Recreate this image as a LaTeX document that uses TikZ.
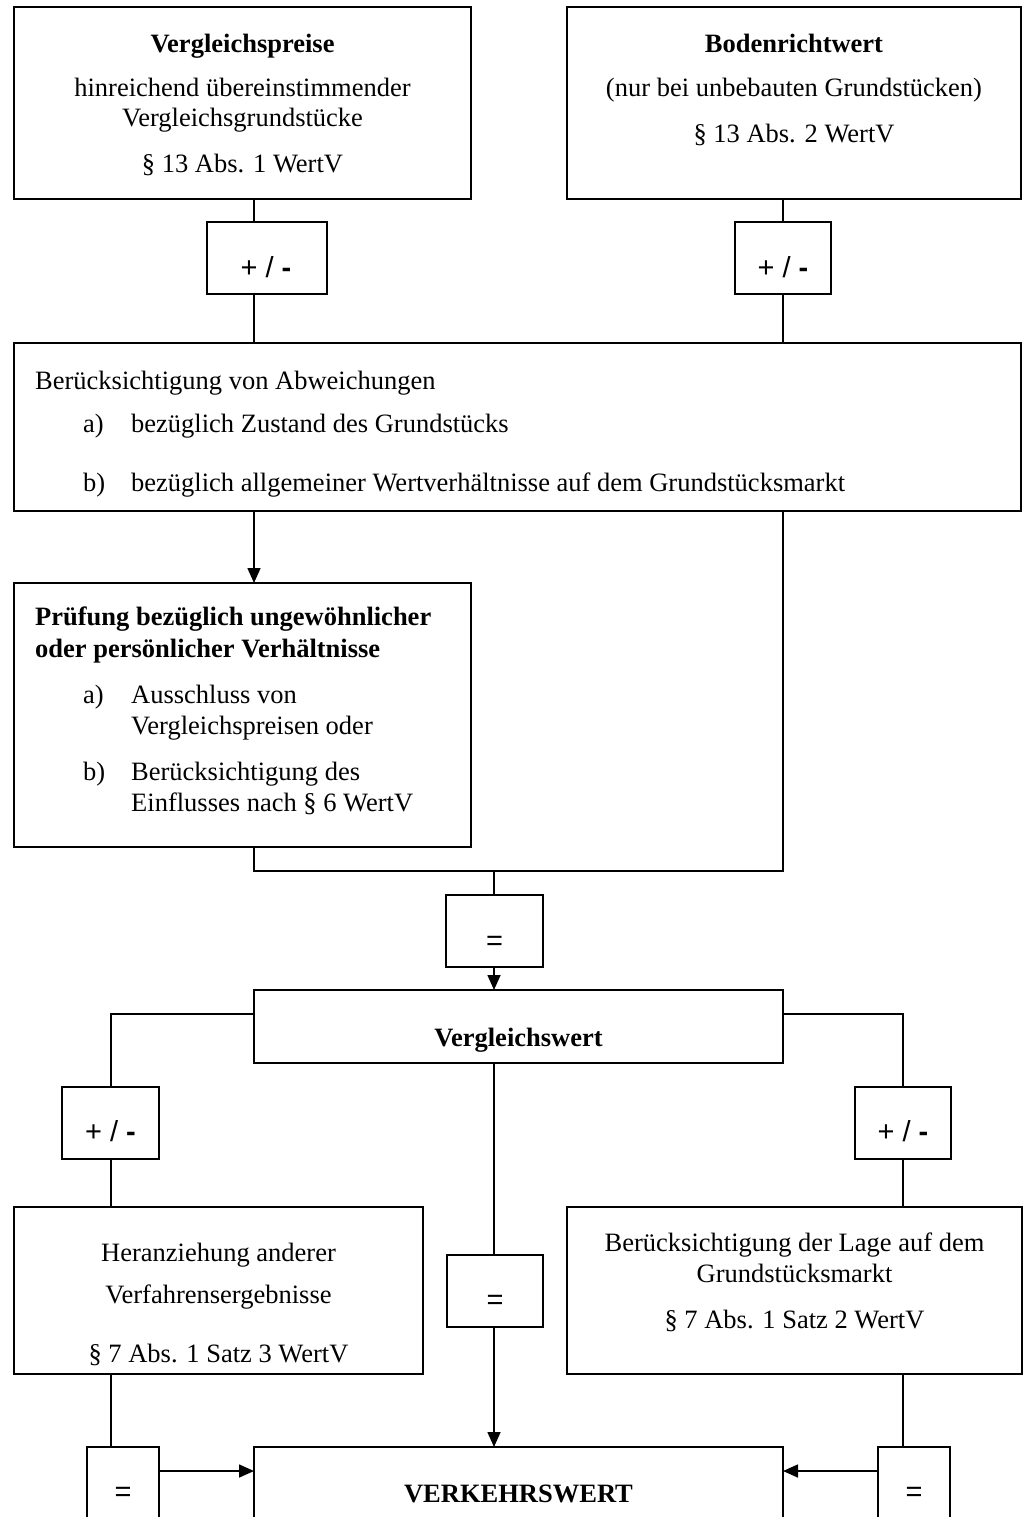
\documentclass[tikz,border=0pt]{standalone}
\usepackage{fontspec}
\setmainfont{Liberation Serif}
\newfontfamily\opfont{Liberation Sans}
\usetikzlibrary{arrows.meta}

\newcommand\dsize{\fontsize{26.5pt}{31pt}\selectfont}
\newcommand\osize{\fontsize{29pt}{34pt}\selectfont}

\begin{document}
\begin{tikzpicture}[x=1pt,y=-1pt,
  box/.style={draw, line width=1.8pt, rectangle, fill=white, inner sep=0pt, outer sep=0pt},
  conn/.style={line width=1.6pt},
  arr/.style={line width=1.6pt, -{Triangle[length=15pt,width=13pt]}},
  lbl/.style={inner sep=0pt, anchor=base, font=\dsize},
  lblw/.style={inner sep=0pt, anchor=base west, font=\dsize},
  op/.style={inner sep=0pt, anchor=base, font=\osize\opfont}]

\useasboundingbox (0,0) rectangle (1028,1517);
\clip (0,0) rectangle (1028,1517);

% column and row guides for the connectors
\coordinate (xL)  at (254,0);
\coordinate (xR)  at (783,0);
\coordinate (xM)  at (494,0);
\coordinate (xLL) at (111,0);
\coordinate (xRR) at (903,0);
\coordinate (yJ)  at (0,871);
\coordinate (yB)  at (0,1014);
\coordinate (yA)  at (0,1471);

% boxes
\node[box, minimum width=457pt, minimum height=192pt] (vp) at (242.5,103) {};
\node[box, minimum width=454pt, minimum height=192pt] (br) at (794,103) {};
\node[box, minimum width=120pt, minimum height=72pt] (pm1) at (267,258) {};
\node[box, minimum width=96pt, minimum height=72pt] (pm2) at (783,258) {};
\node[box, minimum width=1007pt, minimum height=168pt] (ab) at (517.5,427) {};
\node[box, minimum width=457pt, minimum height=264pt] (pr) at (242.5,715) {};
\node[box, minimum width=97pt, minimum height=72pt] (eq1) at (494.5,931) {};
\node[box, minimum width=529pt, minimum height=73pt] (vw) at (518.5,1026.5) {};
\node[box, minimum width=97pt, minimum height=72pt] (pm3) at (110.5,1123) {};
\node[box, minimum width=96pt, minimum height=72pt] (pm4) at (903,1123) {};
\node[box, minimum width=409pt, minimum height=167pt] (he) at (218.5,1290.5) {};
\node[box, minimum width=455pt, minimum height=167pt] (la) at (794.5,1290.5) {};
\node[box, minimum width=96pt, minimum height=72pt] (eq2) at (495,1291) {};
\node[box, minimum width=529pt, minimum height=100pt] (vk) at (518.5,1497) {};
\node[box, minimum width=72pt, minimum height=100pt] (eq3) at (123,1497) {};
\node[box, minimum width=72pt, minimum height=100pt] (eq4) at (914,1497) {};

% texts
\node[lbl] (t1) at (242.5,53) {\bfseries Vergleichspreise};
\node[lbl] (t2) at (242.5,97) {hinreichend übereinstimmender};
\node[lbl] (t3) at (242.5,127) {Vergleichsgrundstücke};
\node[lbl] (t4) at (242.5,173) {§ 13 Abs. 1 WertV};

\node[lbl] (t5) at (794,53) {\bfseries Bodenrichtwert};
\node[lbl] (t6) at (794,97) {(nur bei unbebauten Grundstücken)};
\node[lbl] (t7) at (794,143) {§ 13 Abs. 2 WertV};

\node[op] (o1) at (266,277) {+ / \textbf{-}};
\node[op] (o2) at (783,277) {+ / \textbf{-}};

\node[lblw] (t8) at (35,389) {Berücksichtigung von Abweichungen};
\node[lblw] (t9) at (83,432) {a)};
\node[lblw] (t10) at (131,432) {bezüglich Zustand des Grundstücks};
\node[lblw] (t11) at (83,491) {b)};
\node[lblw] (t12) at (131,491) {bezüglich allgemeiner Wertverhältnisse auf dem Grundstücksmarkt};

\node[lblw] (t13) at (35,625) {\bfseries Prüfung bezüglich ungewöhnlicher};
\node[lblw] (t14) at (35,657) {\bfseries oder persönlicher Verhältnisse};
\node[lblw] (t15) at (83,703) {a)};
\node[lblw] (t16) at (131,703) {Ausschluss von};
\node[lblw] (t17) at (131,734) {Vergleichspreisen oder};
\node[lblw] (t18) at (83,780) {b)};
\node[lblw] (t19) at (131,780) {Berücksichtigung des};
\node[lblw] (t20) at (131,811) {Einflusses nach § 6 WertV};

\node[op] (o3) at (494.5,950) {=};
\node[lbl] (t21) at (518.5,1046) {\bfseries Vergleichswert};
\node[op] (o4) at (110.5,1141) {+ / \textbf{-}};
\node[op] (o5) at (903,1141) {+ / \textbf{-}};

\node[lbl] (t22) at (218.5,1261) {Heranziehung anderer};
\node[lbl] (t23) at (218.5,1303) {Verfahrensergebnisse};
\node[lbl] (t24) at (218.5,1362) {§ 7 Abs. 1 Satz 3 WertV};

\node[lbl] (t25) at (794.5,1251) {Berücksichtigung der Lage auf dem};
\node[lbl] (t26) at (794.5,1282) {Grundstücksmarkt};
\node[lbl] (t27) at (794.5,1328) {§ 7 Abs. 1 Satz 2 WertV};

\node[op] (o6) at (495,1309) {=};
\node[lbl] (t28) at (518.5,1502) {\bfseries VERKEHRSWERT};
\node[op] (o7) at (123,1501) {=};
\node[op] (o8) at (914,1501) {=};

% connectors
\draw[conn] (vp.south -| xL) -- (pm1.north -| xL);
\draw[conn] (pm1.south -| xL) -- (ab.north -| xL);
\draw[conn] (br.south -| xR) -- (pm2.north -| xR);
\draw[conn] (pm2.south -| xR) -- (ab.north -| xR);
\draw[arr] (ab.south -| xL) -- (pr.north -| xL);
\draw[conn] (pr.south -| xL) -- (xL |- yJ) -- (xR |- yJ) -- (ab.south -| xR);
\draw[conn] (xM |- yJ) -- (eq1.north -| xM);
\draw[arr] (eq1.south -| xM) -- (vw.north -| xM);
\draw[conn] (vw.west |- yB) -- (xLL |- yB) -- (pm3.north -| xLL);
\draw[conn] (pm3.south -| xLL) -- (he.north -| xLL);
\draw[conn] (vw.east |- yB) -- (xRR |- yB) -- (pm4.north -| xRR);
\draw[conn] (pm4.south -| xRR) -- (la.north -| xRR);
\draw[conn] (vw.south -| xM) -- (eq2.north -| xM);
\draw[arr] (eq2.south -| xM) -- (vk.north -| xM);
\draw[conn] (he.south -| xLL) -- (eq3.north -| xLL);
\draw[conn] (la.south -| xRR) -- (eq4.north -| xRR);
\draw[arr] (eq3.east |- yA) -- (vk.west |- yA);
\draw[arr] (eq4.west |- yA) -- (vk.east |- yA);
\end{tikzpicture}
\end{document}
